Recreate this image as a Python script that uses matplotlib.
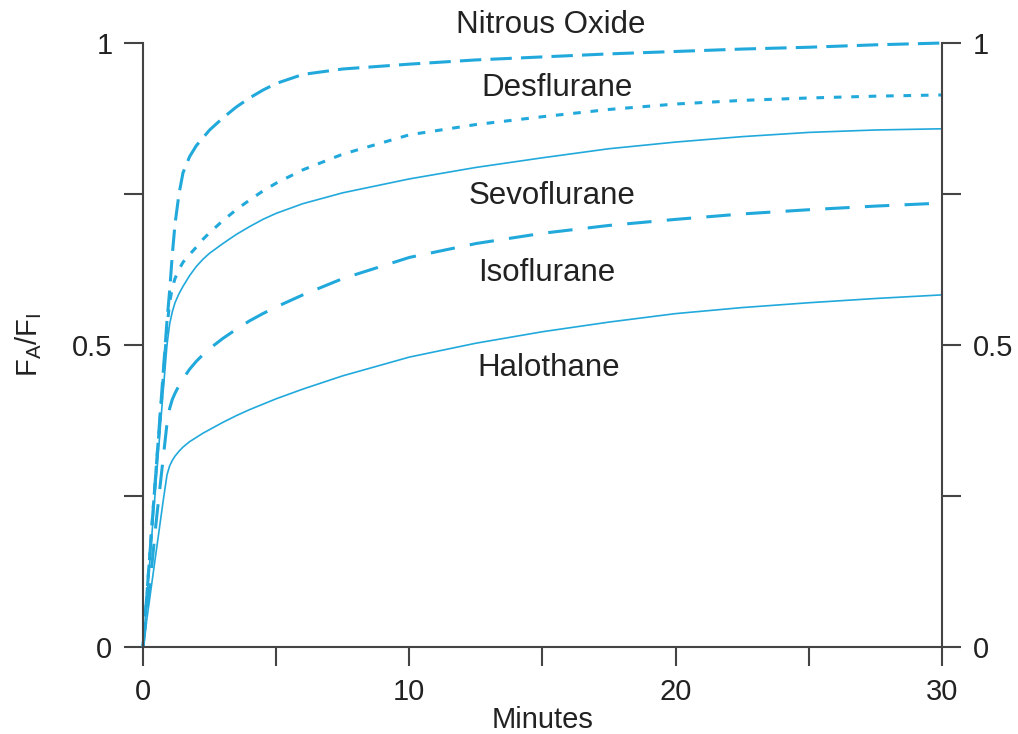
import matplotlib
matplotlib.use("Agg")
import matplotlib.pyplot as plt

plt.rcParams['font.family'] = ['Liberation Sans', 'DejaVu Sans']

# minutes
minutes = [0, 0.25, 0.5, 0.75, 0.9, 1.0, 1.1, 1.2, 1.35, 1.5, 1.75, 2, 2.25, 2.5, 3, 3.5, 4, 4.5, 5, 6,
           7.5, 10, 12.5, 15, 17.5, 20, 22.5, 25, 27.5, 30]

# FA/FI
nitrous = [0, 0.15, 0.30, 0.45, 0.54, 0.59, 0.65, 0.70, 0.75, 0.785, 0.812, 0.83, 0.843, 0.856, 0.876, 0.894,
           0.909, 0.922, 0.933, 0.948, 0.957, 0.965, 0.972, 0.977, 0.982, 0.986, 0.99, 0.993, 0.997, 1.0]
desflurane = [0, 0.15, 0.30, 0.44, 0.53, 0.57, 0.595, 0.61, 0.625, 0.637, 0.65, 0.662, 0.675, 0.686, 0.706, 0.724,
              0.74, 0.755, 0.768, 0.79, 0.816, 0.848, 0.865, 0.878, 0.89, 0.899, 0.905, 0.909, 0.912, 0.914]
sevoflurane = [0, 0.14, 0.28, 0.42, 0.50, 0.535, 0.555, 0.57, 0.585, 0.597, 0.615, 0.63, 0.642, 0.652, 0.668, 0.683,
               0.696, 0.708, 0.718, 0.734, 0.752, 0.775, 0.794, 0.81, 0.825, 0.836, 0.845, 0.852, 0.856, 0.858]
isoflurane = [0, 0.10, 0.21, 0.31, 0.37, 0.395, 0.41, 0.42, 0.433, 0.444, 0.46, 0.473, 0.484, 0.494, 0.511, 0.526,
              0.54, 0.552, 0.563, 0.583, 0.61, 0.645, 0.668, 0.685, 0.698, 0.708, 0.717, 0.724, 0.73, 0.735]
halothane = [0, 0.08, 0.16, 0.24, 0.285, 0.30, 0.309, 0.316, 0.324, 0.331, 0.34, 0.347, 0.354, 0.36, 0.372, 0.383,
             0.393, 0.402, 0.411, 0.427, 0.449, 0.48, 0.503, 0.522, 0.538, 0.552, 0.562, 0.57, 0.577, 0.583]

labels = ["Nitrous Oxide", "Desflurane", "Sevoflurane", "Isoflurane", "Halothane"]
label_x = [15.3, 15.55, 15.35, 15.15, 15.25]
label_y = [1.03, 0.925, 0.747, 0.619, 0.462]

color = '#22a9dc'

fig = plt.figure(figsize=(10.18, 7.34), dpi=100)
ax = fig.add_axes([0.1405, 0.1185, 0.7848, 0.8229])

ax.plot(minutes, nitrous, color=color, lw=2.2, dashes=(7, 3), clip_on=False)
ax.plot(minutes, desflurane, color=color, lw=2.2, dashes=(2.5, 3.2), clip_on=False)
ax.plot(minutes, sevoflurane, color=color, lw=1.2, clip_on=False)
ax.plot(minutes, isoflurane, color=color, lw=2.2, dashes=(8, 5), clip_on=False)
ax.plot(minutes, halothane, color=color, lw=1.2, clip_on=False)

for txt, tx, ty in zip(labels, label_x, label_y):
    ax.text(tx, ty, txt, ha='center', va='center', fontsize=22.5, color='#222222')

ax.set_xlim(0, 30)
ax.set_ylim(0, 1)
ax.set_xticks([0, 5, 10, 15, 20, 25, 30])
ax.set_xticklabels(['0', '', '10', '', '20', '', '30'])
ax.set_yticks([0, 0.25, 0.5, 0.75, 1])
ax.set_yticklabels(['0', '', '0.5', '', '1'])

ax.spines['top'].set_visible(False)
for s in ['left', 'right', 'bottom']:
    ax.spines[s].set_color('#444444')
    ax.spines[s].set_linewidth(1.5)

ax.tick_params(axis='both', direction='out', length=14, width=1.5, color='#444444',
               labelsize=21, labelcolor='#222222', pad=8)
ax.tick_params(axis='y', right=True, labelright=True)

ax.set_xlabel('Minutes', fontsize=21, color='#222222', labelpad=0)
ax.set_ylabel(r'F$_\mathregular{A}$/F$_\mathregular{I}$', fontsize=21, color='#222222', labelpad=20)

fig.savefig('out.png', dpi=100)
